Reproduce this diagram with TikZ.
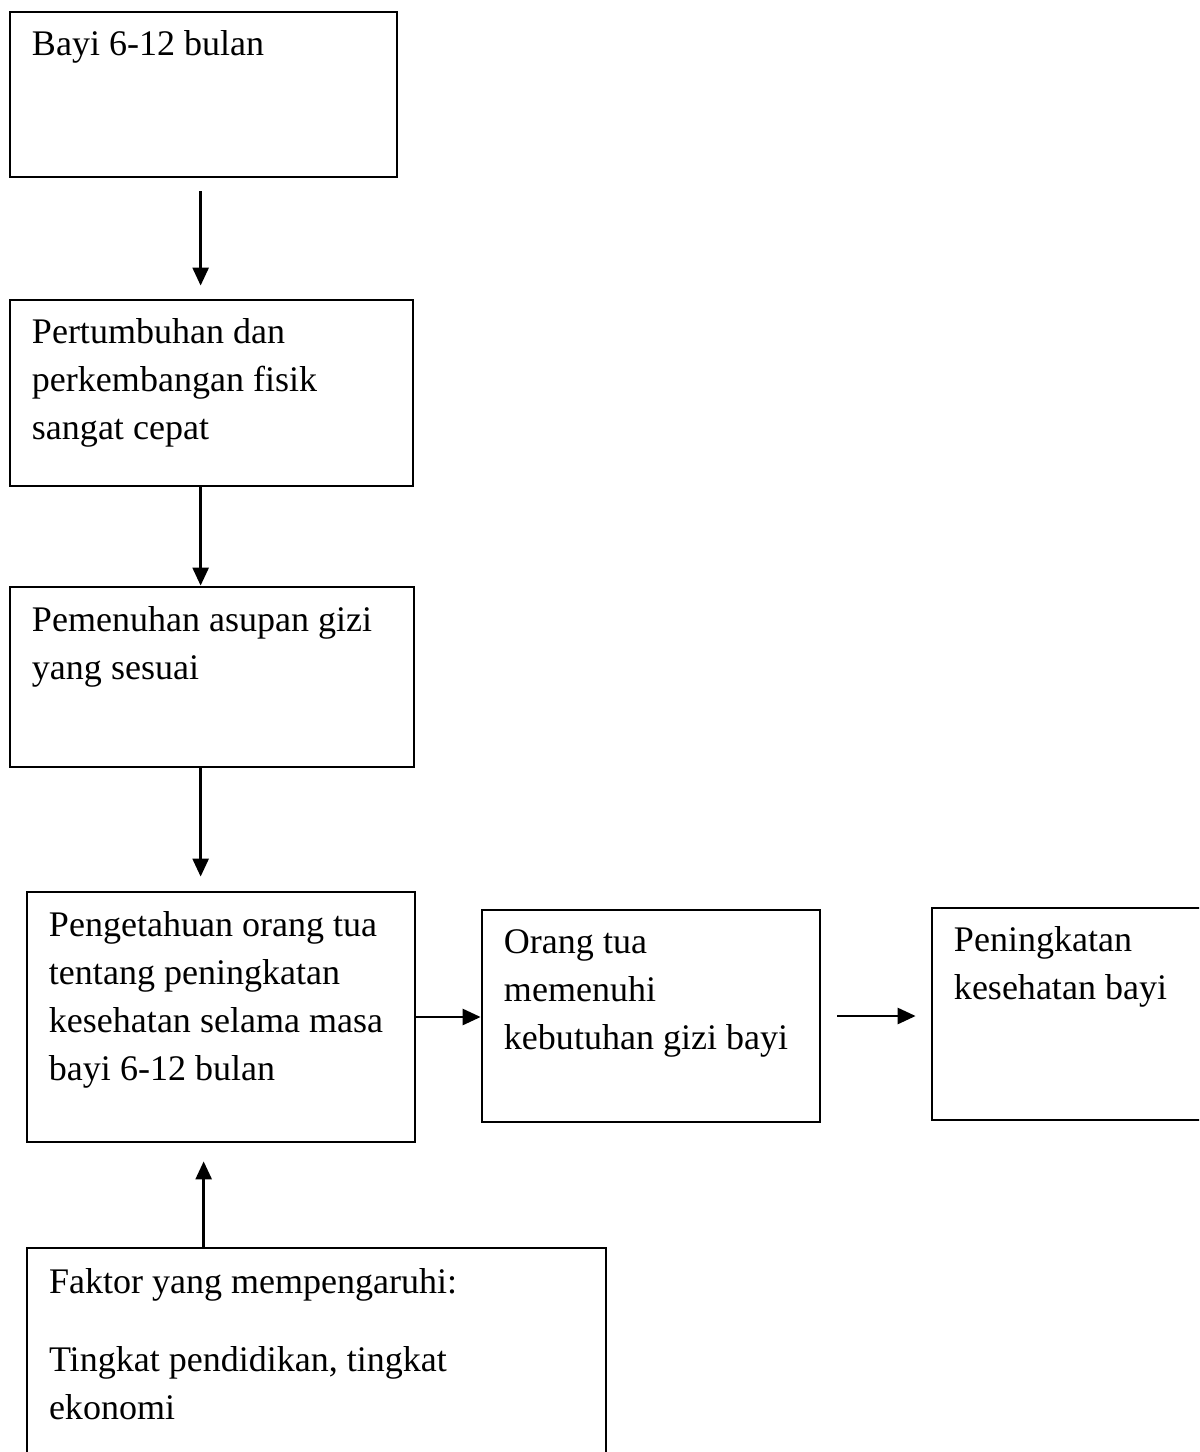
\documentclass[tikz,border=0pt]{standalone}
\usepackage{fontspec}
\setmainfont{Liberation Serif}
\usetikzlibrary{calc,arrows.meta}
\begin{document}
\begin{tikzpicture}[x=0.02cm,y=-0.02cm,
  box/.style={draw,line width=1.6pt,rectangle,inner sep=0pt},
  txt/.style={align=left,inner sep=0pt,anchor=base west,font=\fontsize{20.5}{27.3}\selectfont},
  arr/.style={line width=1.5pt,-{Triangle[length=0.36cm,width=0.32cm]}}]
\useasboundingbox (0,0) rectangle (1199,1452);
\clip (0,0) rectangle (1199,1452);
% boxes
\node[box,minimum width=7.74cm,minimum height=3.30cm] (b1) at (203.5,94.5) {};
\node[box,minimum width=8.06cm,minimum height=3.72cm] (b2) at (211.5,393) {};
\node[box,minimum width=8.08cm,minimum height=3.60cm] (b3) at (212,677) {};
\node[box,minimum width=7.76cm,minimum height=5.00cm] (b4) at (221,1017) {};
\node[box,minimum width=6.76cm,minimum height=4.24cm] (b5) at (651,1016) {};
\node[box,minimum width=5.56cm,minimum height=4.24cm] (b6) at (1071,1014) {};
\node[box,minimum width=11.58cm,minimum height=4.44cm] (b7) at (316.5,1359) {};
% texts (anchored at the baseline of their last line)
\node[txt] (t1) at ($(b1.north west)+(23,45)$) {Bayi 6-12 bulan};
\node[txt] (t2) at ($(b2.north west)+(23,141)$) {Pertumbuhan dan\\perkembangan fisik\\sangat cepat};
\node[txt] (t3) at ($(b3.north west)+(23,94)$) {Pemenuhan asupan gizi\\yang sesuai};
\node[txt] (t4) at ($(b4.north west)+(23,190)$) {Pengetahuan orang tua\\tentang peningkatan\\kesehatan selama masa\\bayi 6-12 bulan};
\node[txt] (t5) at ($(b5.north west)+(23,141)$) {Orang tua\\memenuhi\\kebutuhan gizi bayi};
\node[txt] (t6) at ($(b6.north west)+(23,93)$) {Peningkatan\\kesehatan bayi};
\node[txt] (t7) at ($(b7.north west)+(23,47)$) {Faktor yang mempengaruhi:};
\node[txt] (t8) at ($(b7.north west)+(23,173)$) {Tingkat pendidikan, tingkat\\ekonomi};
% connectors
\coordinate (ax) at ($(b1.south west)+(192,0)$);
\draw[arr,shorten <=0.26cm,shorten >=0.26cm] (ax) -- (ax |- b2.north);
\draw[arr] (ax |- b2.south) -- (ax |- b3.north);
\draw[arr,shorten >=0.28cm] (ax |- b3.south) -- (ax |- b4.north);
\draw[arr] (b4.east) -- (b4.east -| b5.west);
\draw[arr,shorten <=0.32cm,shorten >=0.3cm] (b5.east) -- (b5.east -| b6.west);
\coordinate (f) at ($(b7.north west)+(178,0)$);
\draw[arr,shorten >=0.36cm] (f) -- (f |- b4.south);
\end{tikzpicture}
\end{document}
